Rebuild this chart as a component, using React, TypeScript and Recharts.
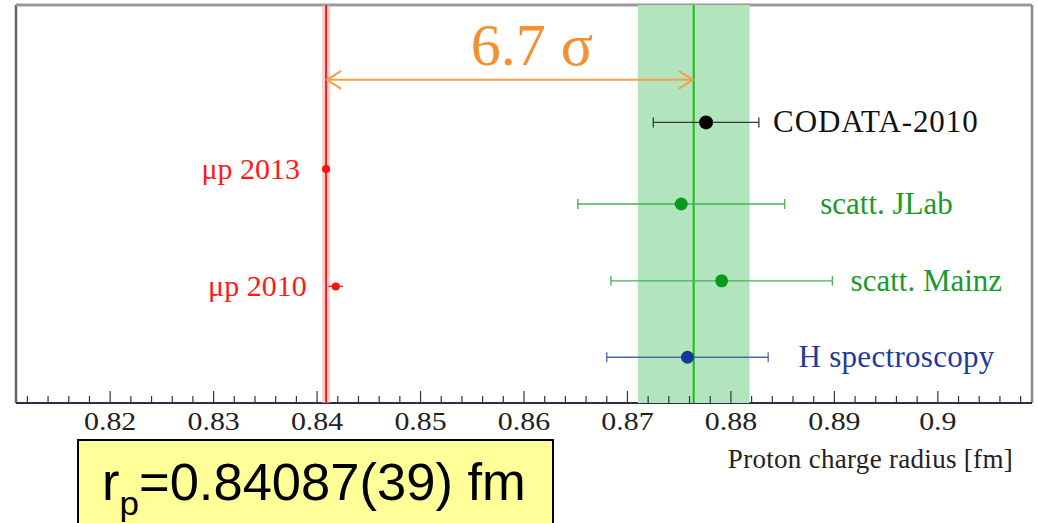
import React from 'react';
import { ScatterChart, Scatter, XAxis, YAxis, ErrorBar, ReferenceLine, ReferenceArea } from 'recharts';

// ---- data ----
const MEASUREMENTS = ['CODATA-2010', 'scatt. JLab', 'scatt. Mainz', 'H spectroscopy', 'μp 2013', 'μp 2010'];
const RADII = [0.8776, 0.8752, 0.8791, 0.8758, 0.84087, 0.8418];
const ERRORS = [0.0051, 0.0100, 0.0107, 0.0078, 0.00039, 0.0007];
const ROWS = [7.05, 5.0, 3.07, 1.15, 5.88, 2.93];

const MUP_RESULT = 0.84087;
const MUP_ERROR = 0.00039;
const EP_AVERAGE = 0.8764;
const EP_AVERAGE_ERROR = 0.0054;
const ARROW_ROW = 8.12;
const SIGMA_LABEL = '6.7 σ';

const MAJOR_TICKS = [0.82, 0.83, 0.84, 0.85, 0.86, 0.87, 0.88, 0.89, 0.9];
const TICK_LABELS = ['0.82', '0.83', '0.84', '0.85', '0.86', '0.87', '0.88', '0.89', '0.9'];
const X_DOMAIN: [number, number] = [0.8109, 0.9091];
const Y_DOMAIN: [number, number] = [0, 10];
const AXIS_TITLE = 'Proton charge radius [fm]';
const RESULT_MAIN = 'r';
const RESULT_SUB = 'p';
const RESULT_REST = '=0.84087(39) fm';

// ---- styles ----
const SERIF = "'Liberation Serif', 'Times New Roman', serif";
const SANS = "'Liberation Sans', Arial, sans-serif";
const SERIES_STYLE = [
  { dot: '#000000', bar: '#3a3a3a', text: '#111111', r: 7, dx: 67, anchor: 'start', fs: 31, ls: 0.9, cap: 5 },
  { dot: '#0c9a1d', bar: '#47b252', text: '#1a9a2a', r: 6.5, dx: 139, anchor: 'start', fs: 31, ls: 0, cap: 5 },
  { dot: '#0c9a1d', bar: '#47b252', text: '#1a9a2a', r: 6.5, dx: 129, anchor: 'start', fs: 31, ls: 0, cap: 5 },
  { dot: '#12389a', bar: '#4a68aa', text: '#1d3a9c', r: 6.5, dx: 111, anchor: 'start', fs: 31, ls: 0.3, cap: 5 },
  { dot: '#ff1010', bar: '#ff1010', text: '#ff1a1a', r: 4, dx: -26, anchor: 'end', fs: 30, ls: 0, cap: 0 },
  { dot: '#ff1010', bar: '#ff1010', text: '#ff1a1a', r: 4, dx: -29, anchor: 'end', fs: 30, ls: 0, cap: 0 },
];

// minor ticks every 1/5 of a major step
const ALL_TICKS: number[] = (() => {
  const step = (MAJOR_TICKS[1] - MAJOR_TICKS[0]) / 5;
  const out: number[] = [];
  const k0 = Math.ceil(X_DOMAIN[0] / step - 1e-9);
  const k1 = Math.floor(X_DOMAIN[1] / step + 1e-9);
  for (let k = k0; k <= k1; k++) out.push(Math.round(k * step * 1e6) / 1e6);
  return out;
})();

const AxisTick = (props: any) => {
  const { x, y, payload } = props;
  const v = payload.value;
  const idx = MAJOR_TICKS.findIndex((m) => Math.abs(m - v) < 1e-6);
  const major = idx >= 0;
  return (
    <g>
      <line x1={x} x2={x} y1={y} y2={y - (major ? 12 : 7)} stroke="#333" strokeWidth={1.2} />
      {major && (
        <g transform={`translate(${x},${y + 27}) scale(1.15,1)`}>
          <text x={0} y={0} textAnchor="middle" fontSize={26} fontFamily={SERIF} fill="#222">
            {TICK_LABELS[idx]}
          </text>
        </g>
      )}
    </g>
  );
};

const Marker = (props: any) => {
  const { cx, cy, idx } = props;
  const s = SERIES_STYLE[idx];
  return (
    <g>
      <circle cx={cx} cy={cy} r={s.r} fill={s.dot} />
      <text
        x={cx + s.dx}
        y={cy + 10}
        textAnchor={s.anchor}
        fontSize={s.fs}
        letterSpacing={s.ls}
        fontFamily={SERIF}
        fill={s.text}
      >
        {MEASUREMENTS[idx]}
      </text>
    </g>
  );
};

const Arrow = (props: any) => {
  const { x1, x2, y1 } = props;
  const c = '#f5a049';
  const L = 15;
  const H = 9;
  return (
    <g>
      <line x1={x1} x2={x2} y1={y1} y2={y1} stroke={c} strokeWidth={2} />
      <polyline points={`${x1 + L},${y1 - H} ${x1 + 1},${y1} ${x1 + L},${y1 + H}`} fill="none" stroke={c} strokeWidth={2} />
      <polyline points={`${x2 - L},${y1 - H} ${x2 - 1},${y1} ${x2 - L},${y1 + H}`} fill="none" stroke={c} strokeWidth={2} />
      <text x={(x1 + x2) / 2 + 22} y={y1 - 15} textAnchor="middle" fontSize={60} fontFamily={SERIF} fill="#f39131">
        {SIGMA_LABEL}
      </text>
    </g>
  );
};

const AxisTitle = (props: any) => {
  const vb = props.viewBox || {};
  return (
    <text x={vb.x + vb.width - 19} y={vb.y + 65} textAnchor="end" fontSize={27} letterSpacing={0.3} fontFamily={SERIF} fill="#222">
      {AXIS_TITLE}
    </text>
  );
};

export default function App() {
  return (
    <div style={{ position: 'absolute', left: 0, top: 0, width: 1038, height: 523, overflow: 'hidden', background: '#fff' }}>
      <ScatterChart width={1038} height={523} margin={{ top: 5, right: 6, bottom: 50, left: 16 }}>
        <XAxis
          type="number"
          dataKey="x"
          domain={X_DOMAIN}
          allowDataOverflow
          ticks={ALL_TICKS}
          interval={0}
          tick={<AxisTick />}
          tickLine={false}
          tickSize={0}
          tickMargin={0}
          height={70}
          axisLine={{ stroke: '#2d2d46', strokeWidth: 2 }}
          label={AxisTitle}
        />
        <YAxis type="number" dataKey="y" domain={Y_DOMAIN} hide />
        <ReferenceLine x={X_DOMAIN[0]} stroke="#666" strokeWidth={2.5} />
        <ReferenceLine y={Y_DOMAIN[1]} stroke="#9a9a9a" strokeWidth={3} />
        <ReferenceLine x={X_DOMAIN[1]} stroke="#888" strokeWidth={2.5} />
        <ReferenceArea
          x1={EP_AVERAGE - EP_AVERAGE_ERROR}
          x2={EP_AVERAGE + EP_AVERAGE_ERROR}
          fill="#b2e4bd"
          fillOpacity={1}
          stroke="none"
          zIndex={550}
        />
        <ReferenceArea
          x1={MUP_RESULT - MUP_ERROR}
          x2={MUP_RESULT + MUP_ERROR}
          fill="#ffb0b0"
          fillOpacity={0.6}
          stroke="none"
          zIndex={550}
        />
        <ReferenceLine x={EP_AVERAGE} stroke="#12c212" strokeWidth={2} zIndex={560} />
        <ReferenceLine x={MUP_RESULT} stroke="#ff1a1a" strokeWidth={2} zIndex={560} />
        <ReferenceLine
          segment={[{ x: MUP_RESULT, y: ARROW_ROW }, { x: EP_AVERAGE, y: ARROW_ROW }]}
          shape={(p: any) => <Arrow {...p} />}
          zIndex={570}
        />
        {MEASUREMENTS.map((name, i) => (
          <Scatter
            key={name}
            name={name}
            data={[{ x: RADII[i], y: ROWS[i], err: ERRORS[i] }]}
            isAnimationActive={false}
            shape={(p: any) => <Marker {...p} idx={i} />}
          >
            <ErrorBar
              dataKey="err"
              direction="x"
              width={SERIES_STYLE[i].cap}
              stroke={SERIES_STYLE[i].bar}
              strokeWidth={1.3}
              zIndex={590}
            />
          </Scatter>
        ))}
      </ScatterChart>
      <svg width={1038} height={523} style={{ position: 'absolute', left: 0, top: 0, pointerEvents: 'none' }}>
        <rect x={78} y={440} width={475} height={100} fill="#ffff99" stroke="#000" strokeWidth={2} />
        <g transform="translate(102,500) scale(1.03,1)">
          <text x={0} y={0} fontFamily={SANS} fontSize={51} fill="#000">
            {RESULT_MAIN}
            <tspan fontSize={34} dy={15}>{RESULT_SUB}</tspan>
            <tspan fontSize={51} dy={-15}>{RESULT_REST}</tspan>
          </text>
        </g>
      </svg>
    </div>
  );
}
